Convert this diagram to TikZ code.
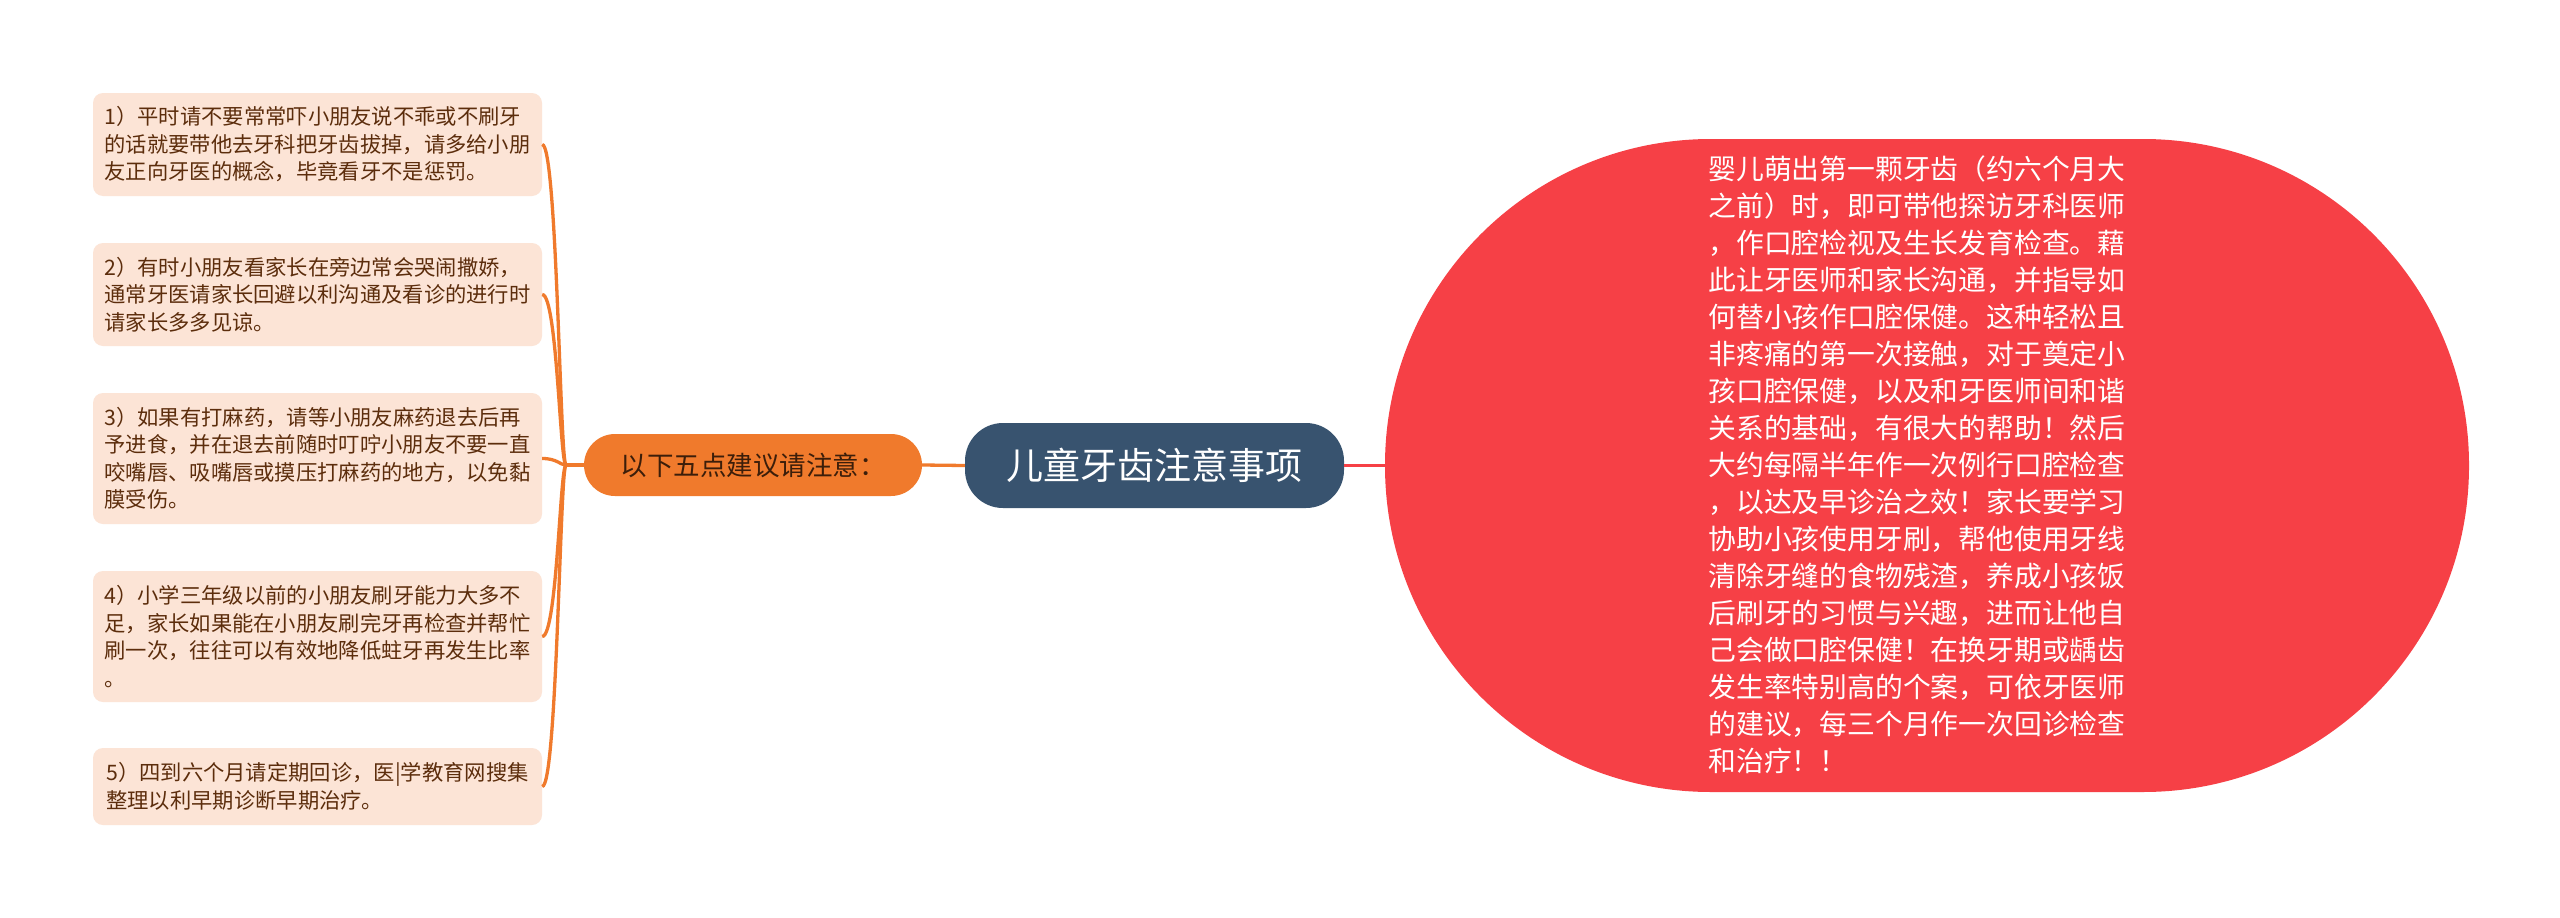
\documentclass[tikz,border=0pt]{standalone}
\usepackage{fontspec}
\newfontfamily\cjk{Noto Sans CJK SC}
\usetikzlibrary{calc}
\definecolor{peach}{RGB}{252,228,214}
\definecolor{boxtext}{RGB}{92,45,12}
\definecolor{orangec}{RGB}{240,122,44}
\definecolor{subtext}{RGB}{60,30,10}
\definecolor{navyc}{RGB}{56,83,111}
\definecolor{redc}{RGB}{246,64,70}
\tikzset{
  leafbox/.style={rectangle, rounded corners=10pt, fill=peach, text=boxtext, align=left,
    minimum width=449pt, inner sep=0pt, font=\cjk\fontsize{21.3}{27.5}\selectfont},
  rootbox/.style={rectangle, rounded corners=38pt, fill=navyc, text=white, inner sep=0pt,
    minimum width=379pt, minimum height=85pt, font=\cjk\fontsize{37}{40}\selectfont},
  subbox/.style={rectangle, rounded corners=31pt, fill=orangec, text=subtext, inner sep=0pt,
    minimum width=338pt, minimum height=62pt, font=\cjk\fontsize{26.5}{30}\selectfont},
  detailbox/.style={rectangle, rounded corners=326pt, fill=redc, inner sep=0pt,
    minimum width=1084pt, minimum height=653pt},
  detailtext/.style={text=white, align=left, inner sep=0pt, font=\cjk\fontsize{27.8}{37}\selectfont},
  orangeline/.style={draw=orangec, line width=3.3pt},
  redline/.style={draw=redc, line width=3pt}
}
\begin{document}
\begin{tikzpicture}[x=1pt,y=-1pt]
\useasboundingbox[fill=white] (0,0) rectangle (2560,918);

\node[detailbox] (detail) at (1927,465.5) {};
\node[detailtext] (dtext) at (1917,465) {婴儿萌出第一颗牙齿（约六个月大\\之前）时，即可带他探访牙科医师\\，作口腔检视及生长发育检查。藉\\此让牙医师和家长沟通，并指导如\\何替小孩作口腔保健。这种轻松且\\非疼痛的第一次接触，对于奠定小\\孩口腔保健，以及和牙医师间和谐\\关系的基础，有很大的帮助！然后\\大约每隔半年作一次例行口腔检查\\，以达及早诊治之效！家长要学习\\协助小孩使用牙刷，帮他使用牙线\\清除牙缝的食物残渣，养成小孩饭\\后刷牙的习惯与兴趣，进而让他自\\己会做口腔保健！在换牙期或龋齿\\发生率特别高的个案，可依牙医师\\的建议，每三个月作一次回诊检查\\和治疗！！};

\node[rootbox] (root) at (1154.5,465.5) {儿童牙齿注意事项};
\node[subbox] (sub) at (753,465) {以下五点建议请注意：};

\node[leafbox, minimum height=103pt] (b1) at (317.5,144.5) {1）平时请不要常常吓小朋友说不乖或不刷牙\\的话就要带他去牙科把牙齿拔掉，请多给小朋\\友正向牙医的概念，毕竟看牙不是惩罚。};
\node[leafbox, minimum height=103pt] (b2) at (317.5,294.5) {2）有时小朋友看家长在旁边常会哭闹撒娇，\\通常牙医请家长回避以利沟通及看诊的进行时\\请家长多多见谅。};
\node[leafbox, minimum height=131pt] (b3) at (317.5,458.5) {3）如果有打麻药，请等小朋友麻药退去后再\\予进食，并在退去前随时叮咛小朋友不要一直\\咬嘴唇、吸嘴唇或摸压打麻药的地方，以免黏\\膜受伤。};
\node[leafbox, minimum height=131pt] (b4) at (317.5,636.5) {4）小学三年级以前的小朋友刷牙能力大多不\\足，家长如果能在小朋友刷完牙再检查并帮忙\\刷一次，往往可以有效地降低蛀牙再发生比率\\。};
\node[leafbox, minimum height=77pt] (b5) at (317.5,786.5) {5）四到六个月请定期回诊，医|学教育网搜集\\整理以利早期诊断早期治疗。};

\draw[redline] (root.east) -- (detail.west);
\draw[orangeline] (root.west) -- (sub.east);
\coordinate (J) at (566,465);
\draw[orangeline] (sub.west) -- (J);
\foreach \b in {b1,b2,b3,b4,b5}{
  \draw[orangeline] (J) .. controls ($(J)+(-6,0)$) and ($(\b.east)+(15,0)$) .. (\b.east);
}
\end{tikzpicture}
\end{document}
